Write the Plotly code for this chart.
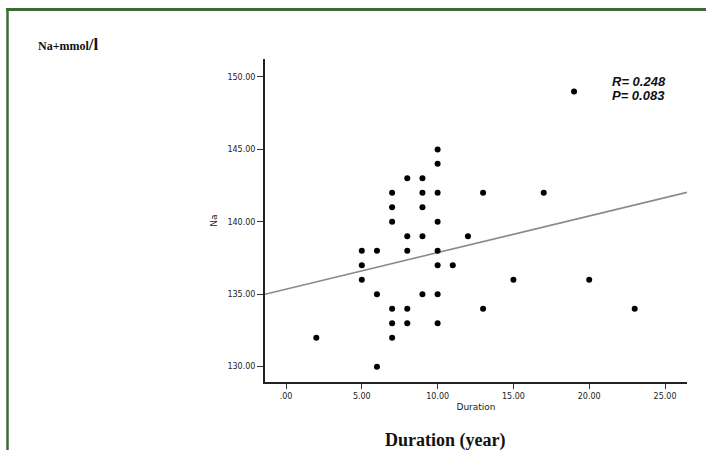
import plotly.graph_objects as go

# ---- data ----
duration = [2, 5, 5, 5, 6, 6, 6, 7, 7, 7, 7, 7, 7, 8, 8, 8, 8, 8,
            9, 9, 9, 9, 9, 10, 10, 10, 10, 10, 10, 10, 10, 11, 12, 13, 13,
            15, 17, 19, 20, 23]
na = [132, 138, 137, 136, 138, 135, 130, 142, 141, 140, 134, 133, 132,
      143, 139, 138, 134, 133, 143, 142, 141, 139, 135, 145, 144, 142,
      140, 138, 137, 135, 133, 137, 139, 142, 134, 136, 142, 149, 136, 134]

fit_intercept = 135.35
fit_slope = 0.2526

x_tickvals = [0, 5, 10, 15, 20, 25]
x_ticktext = [".00", "5.00", "10.00", "15.00", "20.00", "25.00"]
y_tickvals = [130, 135, 140, 145, 150]
y_ticktext = ["130.00", "135.00", "140.00", "145.00", "150.00"]

x_range = [-1.385, 26.45]
y_range = [128.94, 151.24]

# ---- layout geometry (pixels) ----
W, H = 706, 450
L, R, T, B = 265, 19, 59, 68
pw, ph = W - L - R, H - T - B


def px(xp):
    return (xp - L) / pw


def py(yp):
    return (H - B - yp) / ph


fig = go.Figure()

fit_x = x_range
fit_y = [fit_intercept + fit_slope * v for v in fit_x]
fig.add_trace(go.Scatter(x=fit_x, y=fit_y, mode="lines",
                         line=dict(color="#8a8a8a", width=1.6),
                         hoverinfo="skip", showlegend=False, cliponaxis=True))

fig.add_trace(go.Scatter(x=duration, y=na, mode="markers",
                         marker=dict(color="black", size=6),
                         showlegend=False, cliponaxis=False))

axis_font = dict(family="DejaVu Sans", size=8, color="#222222")

fig.update_xaxes(range=x_range, tickvals=x_tickvals, ticktext=x_ticktext,
                 showgrid=False, zeroline=False, showline=True,
                 linecolor="#222222", linewidth=2, ticks="outside",
                 ticklen=5, tickwidth=1, tickcolor="#333333",
                 tickfont=axis_font,
                 title=dict(text="Duration", font=dict(family="DejaVu Sans", size=9, color="#222222"),
                            standoff=4))
fig.update_yaxes(range=y_range, tickvals=y_tickvals, ticktext=y_ticktext,
                 showgrid=False, zeroline=False, showline=True,
                 linecolor="#222222", linewidth=2, ticks="outside",
                 ticklen=6, tickwidth=1, tickcolor="#333333",
                 tickfont=axis_font,
                 title=dict(text="Na", font=dict(family="DejaVu Sans", size=9, color="#222222"),
                            standoff=8))

annotations = [
    dict(text="<b><i>R= 0.248</i></b>", x=px(610), y=py(81.5), xanchor="left", yanchor="middle",
         font=dict(family="Liberation Sans", size=13, color="#111111"),
         showarrow=False, xref="paper", yref="paper"),
    dict(text="<b><i>P= 0.083</i></b>", x=px(610), y=py(95.5), xanchor="left", yanchor="middle",
         font=dict(family="Liberation Sans", size=13, color="#111111"),
         showarrow=False, xref="paper", yref="paper"),
    dict(text="<b>Na+mmol<span style='font-size:17px'>/l</span></b>",
         x=px(36), y=py(45), xanchor="left", yanchor="middle",
         font=dict(family="Liberation Serif", size=12, color="#111111"),
         showarrow=False, xref="paper", yref="paper"),
    dict(text="<b>Duration (year)</b>", x=px(444.5), y=py(440),
         xanchor="center", yanchor="middle",
         font=dict(family="Liberation Serif", size=18, color="#111111"),
         showarrow=False, xref="paper", yref="paper"),
]

shapes = [
    dict(type="line", xref="paper", yref="paper",
         x0=px(6), x1=px(706), y0=py(9.5), y1=py(9.5),
         line=dict(color="#3d6b35", width=3)),
    dict(type="line", xref="paper", yref="paper",
         x0=px(7.5), x1=px(7.5), y0=py(8), y1=py(452),
         line=dict(color="#3d6b35", width=2.5)),
]

fig.update_layout(width=W, height=H,
                  margin=dict(l=L, r=R, t=T, b=B, pad=0),
                  paper_bgcolor="white", plot_bgcolor="white",
                  annotations=annotations, shapes=shapes,
                  showlegend=False)

fig.write_html("out.html",
               config={"displayModeBar": False},
               post_script="document.body.style.margin='0';document.body.style.overflow='hidden';")
